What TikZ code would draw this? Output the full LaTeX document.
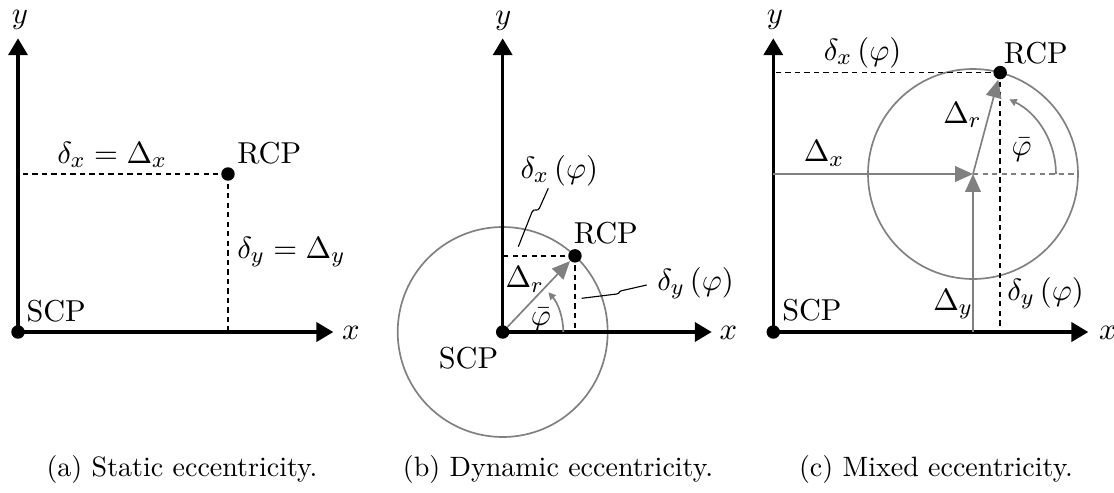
\documentclass[tikz,border=0pt]{standalone}
\usetikzlibrary{arrows.meta,calc}
\definecolor{cgray}{RGB}{128,128,128}
\begin{document}
\begin{tikzpicture}[x=0.357pt,y=0.357pt,
  axis/.style={line width=1.2pt,-{Triangle[length=6pt,width=6.8pt]}},
  garrow/.style={cgray,line width=0.6pt,-{Triangle[length=6.4pt,width=5.6pt]}},
  arcarrow/.style={cgray,line width=0.6pt,-{Triangle[length=2.6pt,width=2.6pt]}},
  ring/.style={cgray,line width=0.6pt},
  proj/.style={line width=0.5pt,dash pattern=on 1.9pt off 1.5pt},
  gproj/.style={cgray,line width=0.4pt,dash pattern=on 1.9pt off 1.5pt},
  dot/.style={circle,fill=black,inner sep=0pt,minimum size=4.8pt},
  lbl/.style={inner sep=0pt,anchor=base west,font=\fontsize{10.8}{13}\selectfont},
  axlbl/.style={inner sep=0pt,font=\fontsize{10.8}{13}\selectfont},
  captext/.style={inner sep=0pt,anchor=base,font=\fontsize{10}{12}\selectfont},
  pointer/.style={line width=0.4pt}]
\useasboundingbox (0,0) rectangle (1114,492);

% ---------------- panel (a)
\coordinate (oA) at (18,160);
\coordinate (yA) at (18,453.7);
\coordinate (xA) at (333.3,160);
\coordinate (pA) at (228,318);
\node[dot] (scpA) at (oA) {};
\node[dot] (rcpA) at (pA) {};
\draw[proj] (rcpA.center) -- (pA -| oA);
\draw[proj] (rcpA.center) -- (pA |- oA);
\draw[axis] (scpA.center) -- (yA);
\draw[axis] (scpA.center) -- (xA);
\node[axlbl] (ylA) at (20,472) {$y$};
\node[axlbl] (xlA) at (350.8,159.5) {$x$};
\node[lbl] (tscpA) at (26,170.3) {SCP};
\node[lbl] (trcpA) at (236.7,328.7) {RCP};
\node[lbl] (dxA) at (56.7,328.7) {$\delta_x = \Delta_x$};
\node[lbl] (dyA) at (236.7,233.7) {$\delta_y = \Delta_y$};
\node[captext] (capA) at (182,15.3) {(a) Static eccentricity.};

% ---------------- panel (b)
\coordinate (oB) at (502.7,160);
\coordinate (yB) at (502.7,453.7);
\coordinate (xB) at (711.7,160);
\coordinate (pB) at ($(oB)+(46.5:105)$);
\draw[ring] (oB) circle[radius=105];
\node[dot] (scpB) at (oB) {};
\node[dot] (rcpB) at (pB) {};
\draw[proj] (rcpB.center) -- (pB -| oB);
\draw[proj] (rcpB.center) -- (pB |- oB);
\draw[axis] (scpB.center) -- (yB);
\draw[axis] (scpB.center) -- (xB);
\draw[garrow] (scpB) -- (rcpB);
\draw[arcarrow] ($(oB)+(60.6,0)$) arc[start angle=0,end angle=41,radius=60.6];
\node[axlbl] (ylB) at (503.3,471.2) {$y$};
\node[axlbl] (xlB) at (728.3,159.5) {$x$};
\node[lbl] (tscpB) at (438.3,123.7) {SCP};
\node[lbl] (trcpB) at (573.3,249) {RCP};
\node[lbl] (drB) at (505,204.5) {$\Delta_r$};
\node[axlbl,anchor=base] (phB) at (541,166.5) {$\bar{\varphi}$};
\node[lbl] (dxB) at (520,313.7) {$\delta_x\left(\varphi\right)$};
\node[lbl] (dyB) at (656.7,202) {$\delta_y\left(\varphi\right)$};
\coordinate (pxa) at (548.3,303.7);
\coordinate (pxb) at (518.3,245.3);
\draw[pointer] (pxa) -- (539.5,284) .. controls (537.2,279.5) and (534.3,284.5) .. (532,280) -- (pxb);
\coordinate (pya) at (646.7,207);
\coordinate (pyb) at (581.7,193.7);
\draw[pointer] (pya) -- (621.7,201.3) .. controls (617.8,200.4) and (620.6,198.9) .. (616.7,198) -- (pyb);
\node[captext] (capB) at (558,15.3) {(b) Dynamic eccentricity.};

% ---------------- panel (c)
\coordinate (oC) at (773.3,160);
\coordinate (yC) at (773.3,453.7);
\coordinate (xC) at (1088.3,160);
\coordinate (cC) at (973,318);
\coordinate (pC) at ($(cC)+(75:105)$);
\draw[ring] (cC) circle[radius=105];
\node[dot] (scpC) at (oC) {};
\node[dot] (rcpC) at (pC) {};
\draw[gproj] (cC) -- ++(105,0);
\draw[proj] (rcpC.center) -- (pC -| oC);
\draw[proj] (rcpC.center) -- (pC |- oC);
\draw[axis] (scpC.center) -- (yC);
\draw[axis] (scpC.center) -- (xC);
\draw[garrow] (cC -| oC) -- (cC);
\draw[garrow] (cC |- oC) -- (cC);
\draw[garrow] (cC) -- (rcpC);
\draw[arcarrow] ($(cC)+(83,0)$) arc[start angle=0,end angle=64,radius=83];
\node[axlbl] (ylC) at (775,472) {$y$};
\node[axlbl] (xlC) at (1108,159.5) {$x$};
\node[lbl] (tscpC) at (781.7,172) {SCP};
\node[lbl] (trcpC) at (1003.3,428.7) {RCP};
\node[lbl] (dxC) at (823.3,432) {$\delta_x\left(\varphi\right)$};
\node[lbl] (drC) at (942.7,368.7) {$\Delta_r$};
\node[axlbl,anchor=base] (phC) at (1021.7,337) {$\bar{\varphi}$};
\node[lbl] (DxC) at (803.3,330.3) {$\Delta_x$};
\node[lbl] (DyC) at (932.7,182) {$\Delta_y$};
\node[lbl] (dyC) at (1006.7,192) {$\delta_y\left(\varphi\right)$};
\node[captext] (capC) at (936,15.3) {(c) Mixed eccentricity.};
\end{tikzpicture}
\end{document}
